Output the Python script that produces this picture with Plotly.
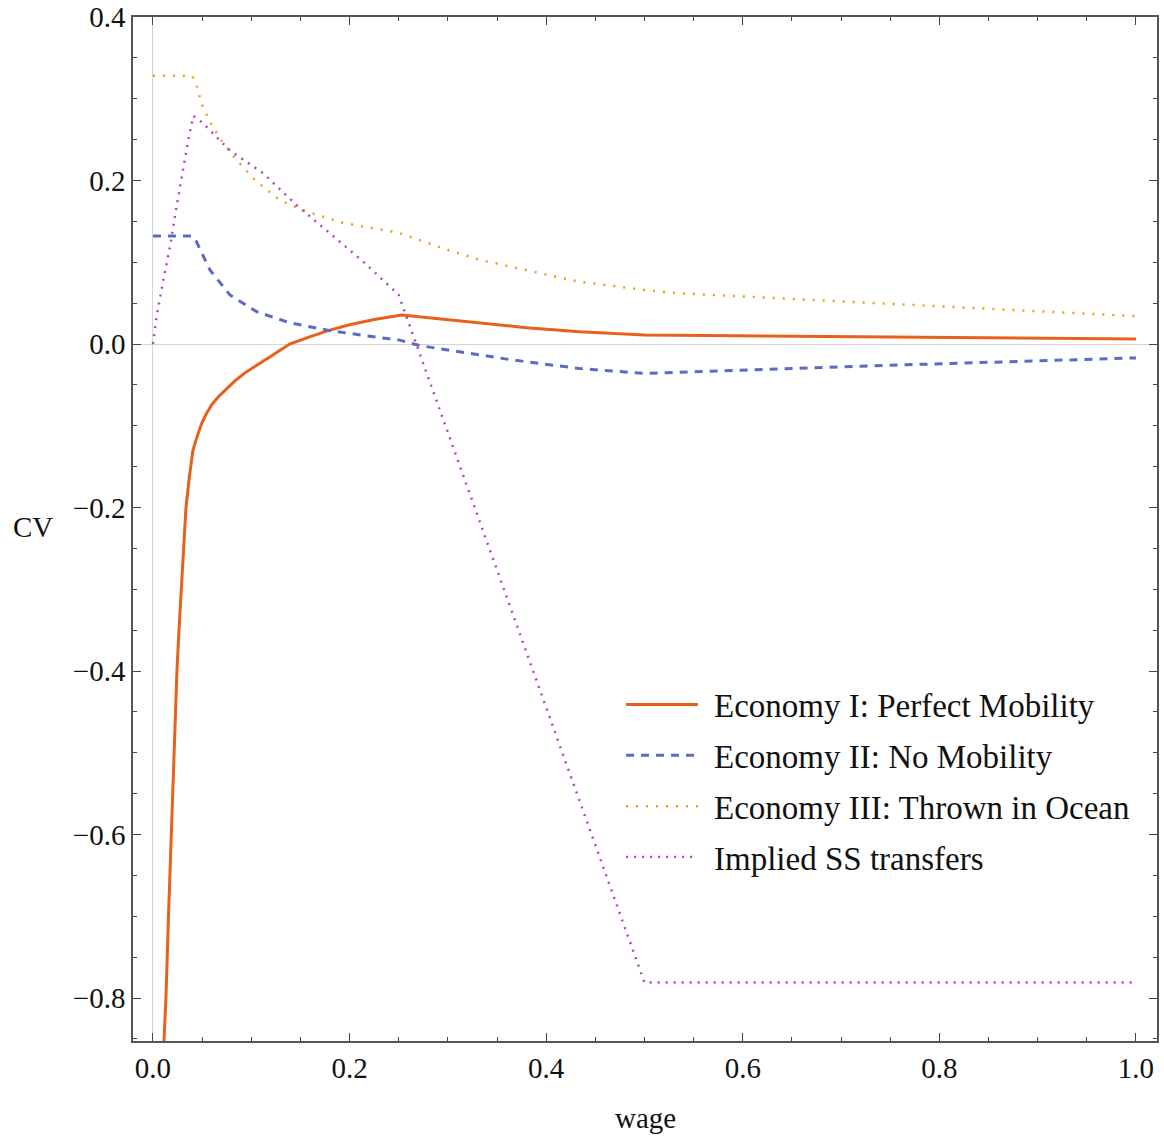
import plotly.graph_objects as go

# ---- data ----
econ1_x = [0.0112, 0.0132, 0.0158, 0.0185, 0.0213, 0.0228, 0.0244, 0.0265, 0.0288, 0.031,
           0.0336, 0.037, 0.0407, 0.045, 0.0493, 0.054, 0.06, 0.067, 0.0745, 0.0845, 0.094,
           0.1037, 0.112, 0.12, 0.129, 0.139, 0.16, 0.18, 0.2, 0.225, 0.253,
           0.3, 0.333, 0.38, 0.434, 0.5, 0.75, 1.0]
econ1_y = [-0.853, -0.8, -0.7, -0.6, -0.5, -0.45, -0.4, -0.35, -0.3, -0.25,
           -0.2, -0.163, -0.1297, -0.113, -0.098, -0.086, -0.074, -0.064, -0.055, -0.044, -0.035,
           -0.027, -0.021, -0.015, -0.008, 0.0, 0.009, 0.017, 0.0235, 0.030, 0.0355,
           0.030, 0.026, 0.020, 0.015, 0.011, 0.0085, 0.006]

econ2_x = [0.0, 0.04, 0.0443, 0.058, 0.0783, 0.1055, 0.139, 0.18, 0.231, 0.25,
           0.2716, 0.366, 0.434, 0.5, 0.75, 1.0]
econ2_y = [0.132, 0.132, 0.125, 0.0905, 0.060, 0.0395, 0.026, 0.0163, 0.0078, 0.005,
           -0.002, -0.0196, -0.030, -0.036, -0.026, -0.017]

econ3_x = [0.0, 0.04, 0.0443, 0.0494, 0.058, 0.068, 0.085, 0.1055, 0.129, 0.156,
           0.194, 0.25, 0.295, 0.333, 0.434, 0.5, 0.536, 0.75, 1.0]
econ3_y = [0.328, 0.328, 0.317, 0.294, 0.272, 0.2516, 0.225, 0.1985, 0.176, 0.162,
           0.148, 0.136, 0.117, 0.1028, 0.076, 0.066, 0.062, 0.049, 0.034]

ss_x = [0.0, 0.0037, 0.0105, 0.0173, 0.024, 0.031, 0.036, 0.041, 0.051, 0.078,
        0.112, 0.146, 0.18, 0.214, 0.25, 0.5, 1.0]
ss_y = [0.0, 0.0334, 0.078, 0.119, 0.168, 0.217, 0.25, 0.279, 0.27, 0.237,
        0.209, 0.170, 0.135, 0.1007, 0.06, -0.781, -0.781]

names = ["Economy I: Perfect Mobility", "Economy II: No Mobility",
         "Economy III: Thrown in Ocean", "Implied SS transfers"]
x_ticks = [0.0, 0.2, 0.4, 0.6, 0.8, 1.0]
x_tick_labels = ["0.0", "0.2", "0.4", "0.6", "0.8", "1.0"]
y_ticks = [0.4, 0.2, 0.0, -0.2, -0.4, -0.6, -0.8]
y_tick_labels = ["0.4", "0.2", "0.0", "\u22120.2", "\u22120.4", "\u22120.6", "\u22120.8"]

FONT = "Liberation Serif"
TXT = "#111"
PAD = "\u2006\u2006"  # small gap between legend sample and label

fig = go.Figure()
fig.add_trace(go.Scatter(x=econ1_x, y=econ1_y, mode="lines", name=PAD + names[0], legendgroup="a",
                         line=dict(color="#E8601C", width=3)))
fig.add_trace(go.Scatter(x=econ2_x, y=econ2_y, mode="lines", name=PAD + names[1], legendgroup="b",
                         line=dict(color="#5A6BC6", width=3, dash="8px,7px")))
fig.add_trace(go.Scatter(x=econ3_x, y=econ3_y, mode="lines", name=PAD + names[2], legendgroup="c",
                         line=dict(color="#F29B0E", width=2.5, dash="2px,8px")))
fig.add_trace(go.Scatter(x=ss_x, y=ss_y, mode="lines", name=PAD + names[3], legendgroup="d",
                         line=dict(color="#B044C4", width=2.5, dash="2px,6px")))

axis_common = dict(
    showgrid=False, ticks="inside", ticklen=8, tickwidth=1, tickcolor="#444",
    showline=True, linecolor="#555", linewidth=1.5, mirror="allticks",
    zeroline=True, zerolinecolor="#d4d4d4", zerolinewidth=1, automargin=False,
    tickfont=dict(family=FONT, size=29, color=TXT),
)

fig.update_xaxes(range=[-0.0203, 1.0214], tickvals=x_ticks, ticktext=x_tick_labels,
                 minor=dict(dtick=0.05, tick0=0, ticks="inside", ticklen=4, tickcolor="#444"),
                 **axis_common)
fig.update_yaxes(range=[-0.8526, 0.4], tickvals=y_ticks, ticktext=y_tick_labels,
                 minor=dict(dtick=0.05, tick0=0, ticks="inside", ticklen=4, tickcolor="#444"),
                 **axis_common)

fig.add_annotation(text="CV", xref="paper", yref="paper", x=-0.0977, y=0.502,
                   showarrow=False, xanchor="center", yanchor="middle",
                   font=dict(family=FONT, size=29, color=TXT))
fig.add_annotation(text="wage", xref="paper", yref="paper", x=0.5, y=-0.0752,
                   showarrow=False, xanchor="center", yanchor="middle",
                   font=dict(family=FONT, size=29, color=TXT))

fig.update_layout(
    width=1164, height=1137,
    margin=dict(l=133, r=7, t=17, b=96),
    paper_bgcolor="white", plot_bgcolor="white",
    showlegend=True,
    legend=dict(x=0.4766, y=0.356, xanchor="left", yanchor="top",
                bgcolor="rgba(0,0,0,0)", itemwidth=72,
                font=dict(family=FONT, size=33, color=TXT),
                tracegroupgap=5),
)

fig.write_html("out.html", config={"displayModeBar": False},
               post_script="document.body.style.margin='0';document.body.style.padding='0';")
